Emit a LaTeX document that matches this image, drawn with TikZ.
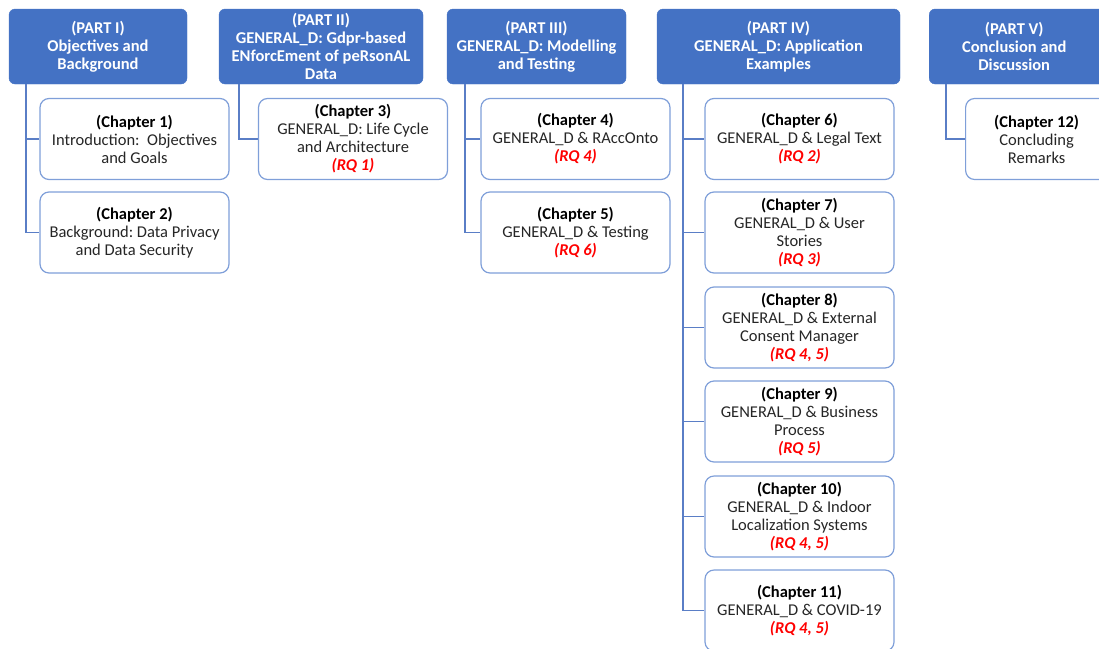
\documentclass[tikz,border=0pt]{standalone}
\usepackage{fontspec}
\setmainfont{Carlito}
\definecolor{partblue}{HTML}{4472C4}
\definecolor{chapline}{HTML}{7F9FD9}
\definecolor{linkblue}{HTML}{5A7EC6}
\definecolor{rqred}{HTML}{FF0000}
\definecolor{bodytext}{HTML}{262626}
\tikzset{
  x=1pt, y=-1pt,
  partbox/.style={draw=partblue, fill=partblue, rounded corners=6pt, text=white,
    font=\fontsize{16.5}{18}\selectfont\bfseries, align=center, inner sep=0pt},
  chapbox/.style={draw=chapline, line width=1.2pt, fill=white, rounded corners=9pt,
    text=bodytext, font=\fontsize{16.5}{18}\selectfont, align=center, inner sep=0pt,
    minimum width=189pt, minimum height=81pt},
  link/.style={draw=linkblue, line width=1.3pt},
}
\newcommand{\rqtag}[1]{\textcolor{rqred}{\bfseries\itshape #1}}
\newcommand{\chaptag}[1]{\textcolor{black}{\bfseries #1}}
\begin{document}
\begin{tikzpicture}
\useasboundingbox (0,0) rectangle (1099,648);
\clip (0,0) rectangle (1099,648);

% parts
\node[partbox, minimum width=178pt, minimum height=75pt] (p1) at (98,46.5)
  {(PART I)\\Objectives and\\Background};
\node[partbox, minimum width=204pt, minimum height=75pt] (p2) at (321,46.5)
  {(PART II)\\GENERAL\_D: Gdpr-based\\ENforcEment of peRsonAL\\Data};
\node[partbox, minimum width=179pt, minimum height=75pt] (p3) at (536.5,46.5)
  {(PART III)\\GENERAL\_D: Modelling\\and Testing};
\node[partbox, minimum width=243pt, minimum height=75pt] (p4) at (778.5,46.5)
  {(PART IV)\\GENERAL\_D: Application\\Examples};
\node[partbox, minimum width=210pt, minimum height=75pt, anchor=west] (p5) at (929,46.5)
  {\hspace*{-40pt}(PART V)\\\hspace*{-40pt}Conclusion and\\\hspace*{-40pt}Discussion};

% chapters
\node[chapbox] (c1) at (134.5,139) {\chaptag{(Chapter 1)}\\Introduction:\ \ Objectives\\and Goals};
\node[chapbox] (c2) at (134.5,232.5) {\chaptag{(Chapter 2)}\\Background:\ Data Privacy\\and Data Security};
\node[chapbox] (c3) at (353,139) {\chaptag{(Chapter 3)}\\GENERAL\_D: Life Cycle\\and Architecture\\\rqtag{(RQ 1)}};
\node[chapbox] (c4) at (575.5,139) {\chaptag{(Chapter 4)}\\GENERAL\_D \& RAccOnto\\\rqtag{(RQ 4)}};
\node[chapbox] (c5) at (575.5,232.5) {\chaptag{(Chapter 5)}\\GENERAL\_D \& Testing\\\rqtag{(RQ 6)}};
\node[chapbox] (c6) at (799.5,139) {\chaptag{(Chapter 6)}\\GENERAL\_D \& Legal Text\\\rqtag{(RQ 2)}};
\node[chapbox] (c7) at (799.5,232.5) {\chaptag{(Chapter 7)}\\GENERAL\_D \& User\\Stories\\\rqtag{(RQ 3)}};
\node[chapbox] (c8) at (799.5,327.5) {\chaptag{(Chapter 8)}\\GENERAL\_D \& External\\Consent Manager\\\rqtag{(RQ 4, 5)}};
\node[chapbox] (c9) at (799.5,421.5) {\chaptag{(Chapter 9)}\\GENERAL\_D \& Business\\Process\\\rqtag{(RQ 5)}};
\node[chapbox] (c10) at (799.5,516.5) {\chaptag{(Chapter 10)}\\GENERAL\_D \& Indoor\\Localization Systems\\\rqtag{(RQ 4, 5)}};
\node[chapbox] (c11) at (799.5,610.5) {\chaptag{(Chapter 11)}\\GENERAL\_D \& COVID-19\\\rqtag{(RQ 4, 5)}};
\node[chapbox, anchor=west] (c12) at (965,139) {\hspace*{-47pt}\chaptag{(Chapter 12)}\\\hspace*{-47pt}Concluding\\\hspace*{-47pt}Remarks};

% spines leaving each part
\coordinate (s1) at (p1.south west -| 26,0);
\coordinate (s2) at (p2.south west -| 239,0);
\coordinate (s3) at (p3.south west -| 465,0);
\coordinate (s4) at (p4.south west -| 683,0);
\coordinate (s5) at (p5.south west -| 946,0);

\draw[link] (s1) |- (c1.west);
\draw[link] (s1) |- (c2.west);
\draw[link] (s2) |- (c3.west);
\draw[link] (s3) |- (c4.west);
\draw[link] (s3) |- (c5.west);
\foreach \c in {c6,c7,c8,c9,c10,c11} \draw[link] (s4) |- (\c.west);
\draw[link] (s5) |- (c12.west);
\end{tikzpicture}
\end{document}
